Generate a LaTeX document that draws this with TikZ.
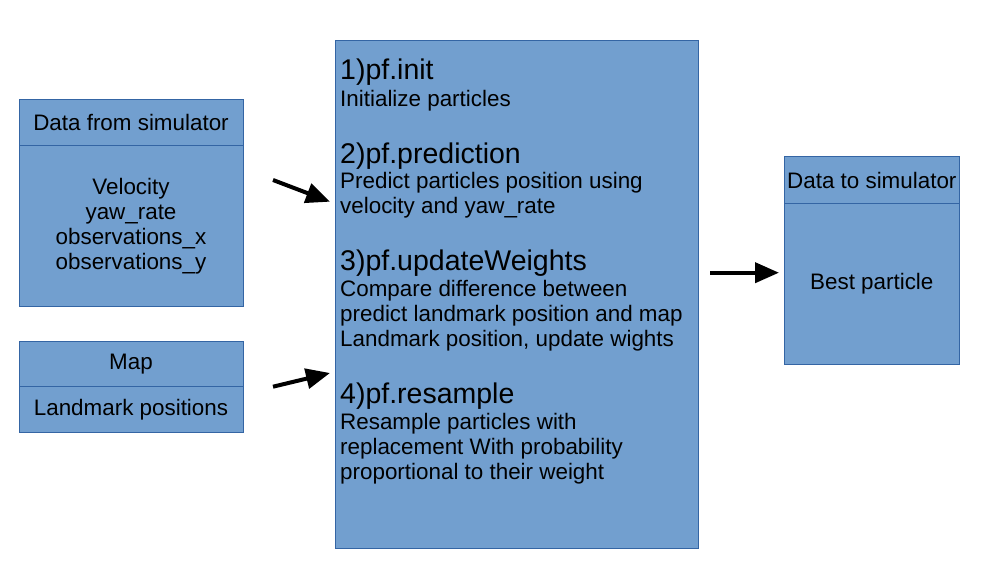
\documentclass[tikz,border=0pt]{standalone}
\usepackage{fontspec}
\setmainfont{Liberation Sans}
\usetikzlibrary{arrows.meta,calc,positioning}
\definecolor{boxfill}{HTML}{729FCF}
\definecolor{boxline}{HTML}{3465A4}

\begin{document}
\begin{tikzpicture}[x=1pt,y=-1pt,
  box/.style={draw=boxline, fill=boxfill, line width=1pt, inner sep=0pt, outer sep=0pt, align=center, font=\fontsize{22.4}{25}\selectfont},
  head/.style={anchor=base west, inner sep=0pt, font=\fontsize{28.5}{32}\selectfont},
  body/.style={anchor=base west, inner sep=0pt, align=left, font=\fontsize{22.4}{25}\selectfont},
  flow/.style={line width=4pt, -{Triangle[length=24pt,width=20pt]}}]
 \useasboundingbox (0,0) rectangle (989,586);

 % inputs
 \node[box, minimum width=224pt, minimum height=46.3pt] (simh) at (131,122.2) {Data from simulator};
 \node[box, minimum width=224pt, minimum height=161.4pt, anchor=north] (simb) at (simh.south) {Velocity\\yaw\_rate\\observations\_x\\observations\_y};
 \node[box, minimum width=224pt, minimum height=45pt] (maph) at (131,364.2) {Map};
 \node[box, minimum width=224pt, minimum height=46pt, anchor=north] (mapb) at (maph.south) {Landmark positions};

 % particle filter (base of a body node is its last line)
 \node[box, minimum width=363pt, minimum height=507pt] (pf) at (516.5,294.5) {};
 \node[head] (h1) at (340,80) {1)pf.init};
 \node[body] (b1) at ($(h1.base west)+(0,26.5)$) {Initialize particles};
 \node[head] (h2) at (340,163.3) {2)pf.prediction};
 \node[body] (b2) at ($(h2.base west)+(0,50.5)$) {Predict particles position using\\velocity and yaw\_rate};
 \node[head] (h3) at (340,270.7) {3)pf.updateWeights};
 \node[body] (b3) at ($(h3.base west)+(0,76)$) {Compare difference between\\predict landmark position and map\\Landmark position, update wights};
 \node[head] (h4) at (340,403.3) {4)pf.resample};
 \node[body] (b4) at ($(h4.base west)+(0,76)$) {Resample particles with\\replacement With probability\\proportional to their weight};

 % output
 \node[box, minimum width=175pt, minimum height=46.6pt] (outh) at (871.8,180) {Data to simulator};
 \node[box, minimum width=175pt, minimum height=160.7pt, anchor=north] (outb) at (outh.south) {Best particle};

 \coordinate (simtail) at (273,180);
 \coordinate (simtip) at (330,201.7);
 \coordinate (maptail) at (273,386.7);
 \coordinate (maptip) at (330,373);
 \coordinate (outtail) at (710,272.7);
 \coordinate (outtip) at (779,272.7);
 \draw[flow] (simtail) -- (simtip);
 \draw[flow] (maptail) -- (maptip);
 \draw[flow] (outtail) -- (outtip);
\end{tikzpicture}
\end{document}
